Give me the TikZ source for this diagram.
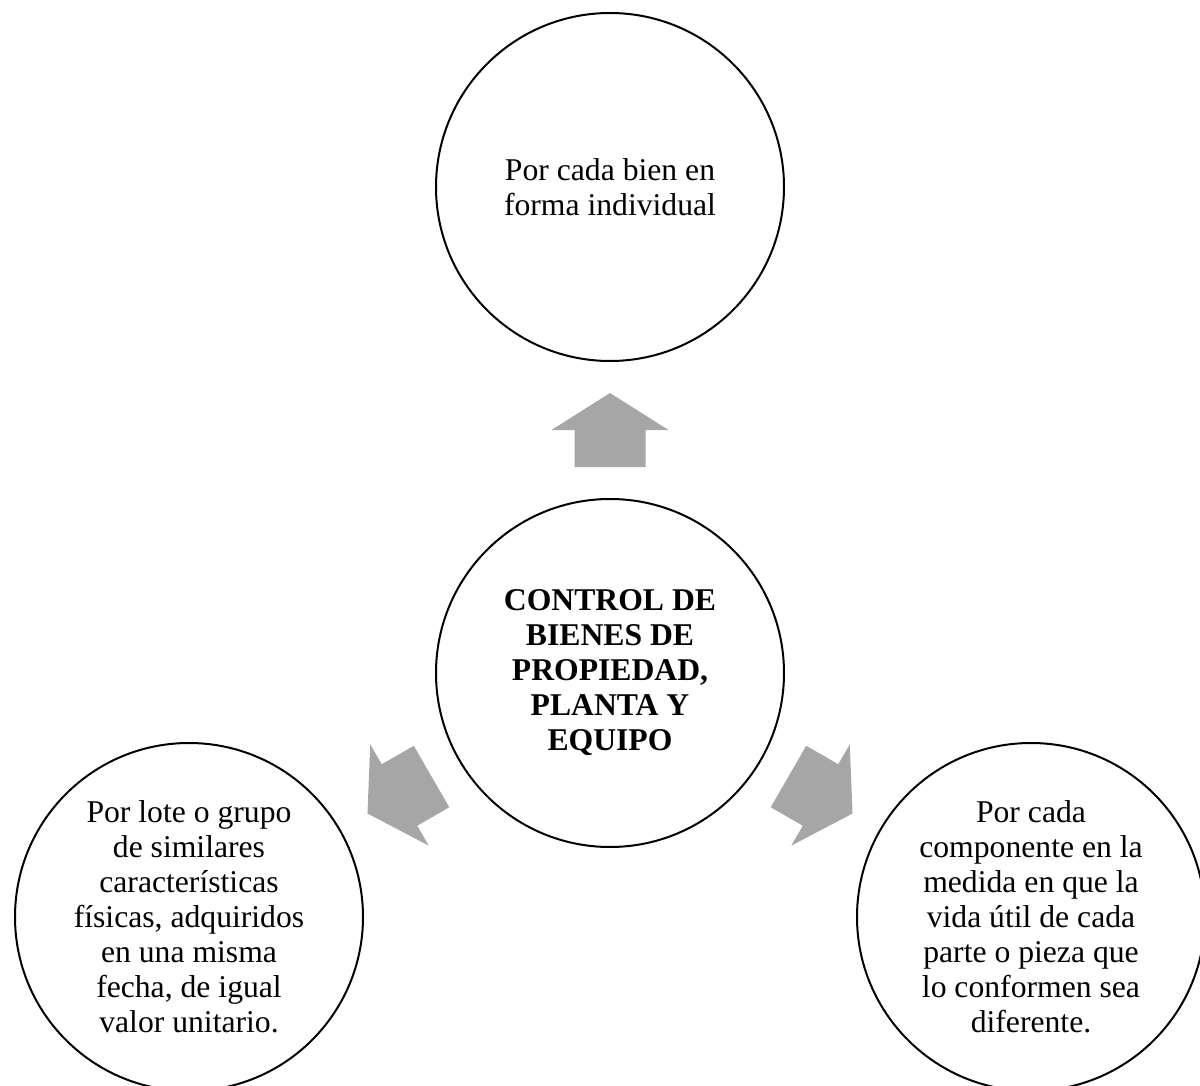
\documentclass[tikz,border=0pt]{standalone}
\usepackage{fontspec}
\setmainfont{Liberation Serif}
\usetikzlibrary{calc}
\definecolor{arrowgray}{RGB}{166,166,166}
\begin{document}
\begin{tikzpicture}[x=0.6pt,y=-0.6pt,
  bubble/.style={circle,draw=black,line width=1.2pt,fill=white,
    minimum size=208.8pt,inner sep=0pt,align=center,
    font=\fontsize{19}{21}\selectfont},
  blockarrow/.style={fill=arrowgray,draw=none}]
\useasboundingbox (0,0) rectangle (1200,1086);
\node[bubble] (t) at (610,187) {Por cada bien en\\forma individual};
\node[bubble,font=\fontsize{19}{21}\selectfont\bfseries] (c) at (610,673)
  {CONTROL DE\\BIENES DE\\PROPIEDAD,\\PLANTA Y\\EQUIPO};
\node[bubble] (l) at (189,917) {Por lote o grupo\\de similares\\características\\físicas, adquiridos\\en una misma\\fecha, de igual\\valor unitario.};
\node[bubble] (r) at (1031,917) {Por cada\\componente en la\\medida en que la\\vida útil de cada\\parte o pieza que\\lo conformen sea\\diferente.};
\foreach \target/\ang in {t/0,l/120,r/-120}{
  \begin{scope}[shift={($(c)!0.5!(\target)$)},rotate=\ang]
    \fill[blockarrow] (0,-37) -- (58.5,0) -- (35.5,0) -- (35.5,37)
      -- (-35.5,37) -- (-35.5,0) -- (-58.5,0) -- cycle;
  \end{scope}
}
\end{tikzpicture}
\end{document}
